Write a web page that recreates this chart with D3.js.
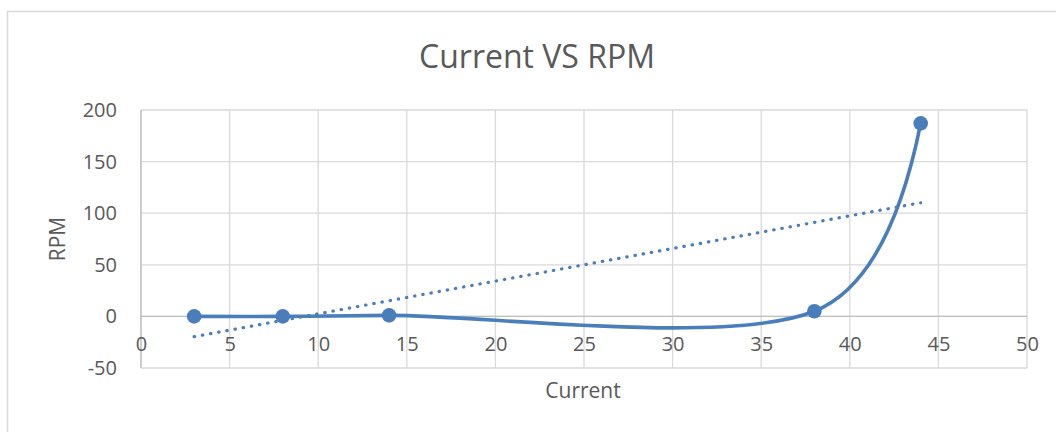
<!DOCTYPE html>
<html>
<head>
<meta charset="utf-8">
<script src="https://cdn.jsdelivr.net/npm/d3@7"></script>
<style>
  html, body { margin: 0; padding: 0; background: #ffffff; }
  svg { display: block; }
  text { font-family: "Open Sans", "Liberation Sans", sans-serif; fill: #595959; }
</style>
</head>
<body>
<svg id="chart" width="1056" height="432"></svg>
<script>
// Measured current against motor speed
const currentValues = [3, 8, 14, 38, 44];
const rpmValues = [0, 0, 1, 5, 187];
const xTicks = [0, 5, 10, 15, 20, 25, 30, 35, 40, 45, 50];
const yTicks = [-50, 0, 50, 100, 150, 200];

const chartTitle = "Current VS RPM";
const xTitle = "Current";
const yTitle = "RPM";

const W = 1056, H = 432;
const plot = { left: 141, right: 1027, top: 110, bottom: 368 };
const blue = "#4a7ebb";

const svg = d3.select("#chart");

const x = d3.scaleLinear().domain([0, 50]).range([plot.left, plot.right]);
const y = d3.scaleLinear().domain([-50, 200]).range([plot.bottom, plot.top]);

// chart area frame
svg.append("rect")
  .attr("x", 7.5).attr("y", 11.5)
  .attr("width", W + 20).attr("height", H + 20)
  .attr("fill", "#ffffff")
  .attr("stroke", "#d9d9d9").attr("stroke-width", 1.5);

// title
svg.append("text")
  .attr("x", 537).attr("y", 68)
  .attr("text-anchor", "middle")
  .style("font-size", "32px")
  .text(chartTitle);

// gridlines
const grid = svg.append("g");
grid.selectAll("line.v").data(xTicks).join("line")
  .attr("x1", d => x(d)).attr("x2", d => x(d))
  .attr("y1", plot.top).attr("y2", plot.bottom)
  .attr("stroke", "#d9d9d9").attr("stroke-width", 1.3);
grid.selectAll("line.h").data(yTicks).join("line")
  .attr("x1", plot.left).attr("x2", plot.right)
  .attr("y1", d => y(d)).attr("y2", d => y(d))
  .attr("stroke", "#d9d9d9").attr("stroke-width", 1.3);

// axis lines crossing at zero
svg.append("line")
  .attr("x1", plot.left).attr("x2", plot.right)
  .attr("y1", y(0)).attr("y2", y(0))
  .attr("stroke", "#bfbfbf").attr("stroke-width", 1.3);
svg.append("line")
  .attr("x1", x(0)).attr("x2", x(0))
  .attr("y1", plot.top).attr("y2", plot.bottom)
  .attr("stroke", "#bfbfbf").attr("stroke-width", 1.3);

// y tick labels
const yAxis = d3.axisLeft(y).tickValues(yTicks).tickSize(0).tickPadding(24)
  .tickFormat(d => String(d));
const yG = svg.append("g").attr("transform", `translate(${plot.left},0)`).call(yAxis);
yG.select(".domain").remove();
yG.selectAll("text").style("font-size", "20px").attr("fill", "#595959")
  .style("font-family", "'Open Sans', sans-serif");

// x tick labels sit just under the zero line
const xAxis = d3.axisBottom(x).tickValues(xTicks).tickSize(0).tickPadding(20)
  .tickFormat(d => String(d));
const xG = svg.append("g").attr("transform", `translate(0,${y(0)})`).call(xAxis);
xG.select(".domain").remove();
xG.selectAll("text").style("font-size", "20px").attr("fill", "#595959")
  .style("font-family", "'Open Sans', sans-serif");

// axis titles
svg.append("text")
  .attr("x", 583).attr("y", 398)
  .attr("text-anchor", "middle")
  .style("font-size", "21px")
  .text(xTitle);
svg.append("text")
  .attr("transform", "translate(65,239) rotate(-90)")
  .attr("text-anchor", "middle")
  .style("font-size", "21px")
  .text(yTitle);

const pts = currentValues.map((c, i) => [c, rpmValues[i]]);

// linear least-squares trendline
const mx = d3.mean(currentValues), my = d3.mean(rpmValues);
const sxy = d3.sum(pts, p => (p[0] - mx) * (p[1] - my));
const sxx = d3.sum(pts, p => (p[0] - mx) ** 2);
const slope = sxy / sxx, intercept = my - slope * mx;
const xMin = d3.min(currentValues), xMax = d3.max(currentValues);

svg.append("line")
  .attr("x1", x(xMin)).attr("y1", y(intercept + slope * xMin))
  .attr("x2", x(xMax)).attr("y2", y(intercept + slope * xMax))
  .attr("stroke", blue).attr("stroke-width", 3.2)
  .attr("stroke-linecap", "round")
  .attr("stroke-dasharray", "0.4,7.9");

// smoothed series line
const line = d3.line()
  .x(d => x(d[0])).y(d => y(d[1]))
  .curve(d3.curveCatmullRom.alpha(0.1));
svg.append("path")
  .datum(pts)
  .attr("d", line)
  .attr("fill", "none")
  .attr("stroke", blue).attr("stroke-width", 3.6)
  .attr("stroke-linecap", "round");

// markers
svg.selectAll("circle.pt").data(pts).join("circle")
  .attr("cx", d => x(d[0])).attr("cy", d => y(d[1]))
  .attr("r", 7.3)
  .attr("fill", blue);
</script>
</body>
</html>
